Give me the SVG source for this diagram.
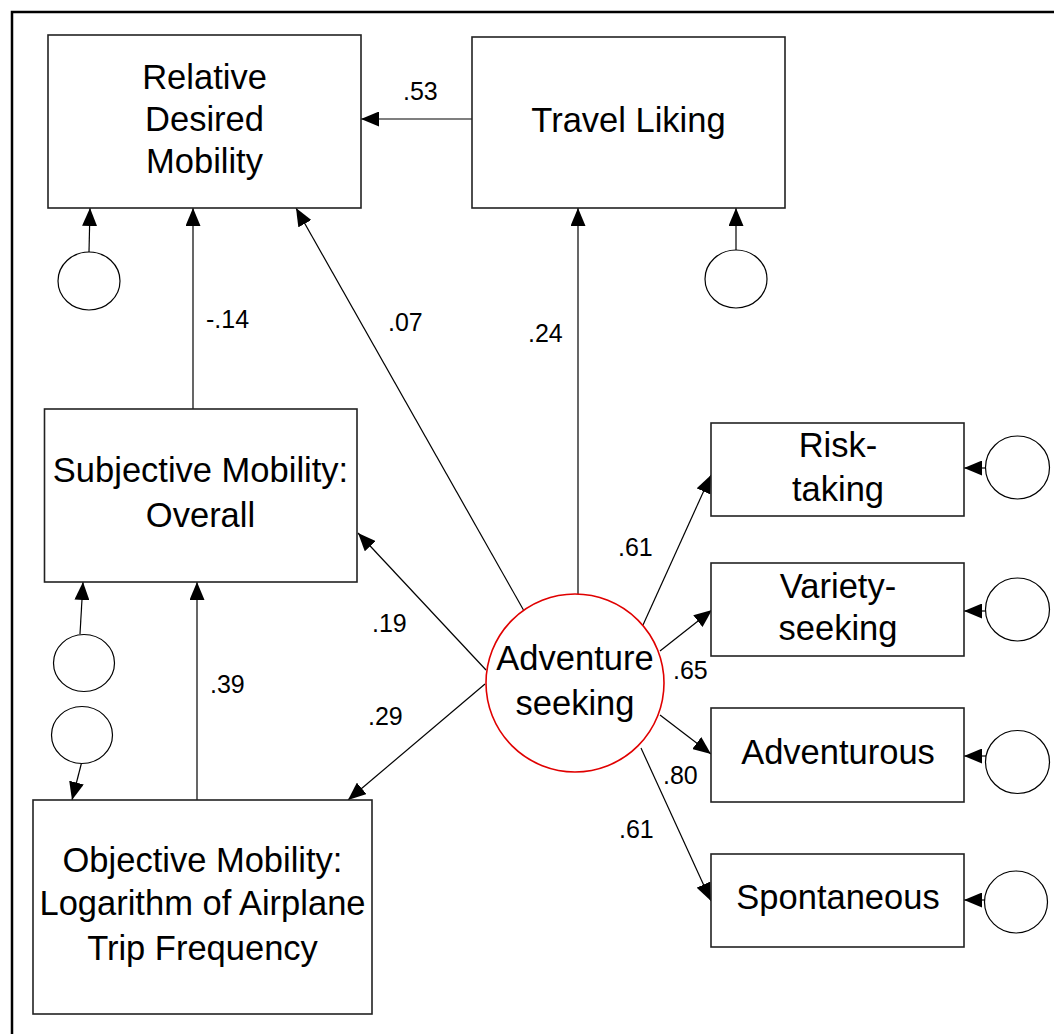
<svg xmlns="http://www.w3.org/2000/svg" width="1054" height="1034" viewBox="0 0 1054 1034">
  <style>
    .box { fill: #fff; stroke: #222; stroke-width: 1.6; }
    .err { fill: #fff; stroke: #000; stroke-width: 1.2; }
    .latent { fill: #fff; stroke: #e00000; stroke-width: 1.6; }
    .lbl { font-family: "Liberation Sans", Arial, sans-serif; font-size: 34.5px; fill: #000; text-anchor: middle; }
    .coef { font-family: "Liberation Sans", Arial, sans-serif; font-size: 25px; fill: #000; }
    .path { stroke: #000; stroke-width: 1.2; fill: none; marker-end: url(#head); }
  </style>
  <defs>
    <marker id="head" markerUnits="userSpaceOnUse" markerWidth="18" markerHeight="15" refX="18" refY="7.5" orient="auto">
      <path d="M0,0 L18,7.5 L0,15 Z" fill="#000"/>
    </marker>
  </defs>

  <rect width="1054" height="1034" fill="#fff"/>
  <!-- frame -->
  <path d="M12,1034 V12 H1054" fill="none" stroke="#000" stroke-width="2.5"/>

  <!-- paths -->
  <g id="connectors">
    <line class="path" x1="472" y1="119" x2="361" y2="119"/>
    <line class="path" x1="736" y1="250" x2="736" y2="208"/>
    <line class="path" x1="89" y1="252" x2="90" y2="208"/>
    <line class="path" x1="193" y1="409" x2="193" y2="208"/>
    <line class="path" x1="523.5" y1="610" x2="296" y2="208"/>
    <line class="path" x1="578" y1="594" x2="578" y2="208"/>
    <line class="path" x1="486" y1="670" x2="358" y2="533"/>
    <line class="path" x1="485" y1="684" x2="348" y2="800"/>
    <line class="path" x1="643" y1="625" x2="711" y2="475"/>
    <line class="path" x1="660" y1="651" x2="712" y2="610"/>
    <line class="path" x1="660" y1="715" x2="711" y2="754"/>
    <line class="path" x1="641" y1="748" x2="711" y2="901"/>
    <line class="path" x1="80" y1="634" x2="83" y2="582"/>
    <line class="path" x1="81.5" y1="763" x2="72" y2="800"/>
    <line class="path" x1="197" y1="800" x2="197" y2="582"/>
    <line class="path" x1="986" y1="468" x2="964" y2="468"/>
    <line class="path" x1="986" y1="611" x2="964" y2="611"/>
    <line class="path" x1="986" y1="756" x2="964" y2="756"/>
    <line class="path" x1="985" y1="900" x2="964" y2="900"/>
  </g>

  <!-- path coefficients -->
  <g id="coefficients">
    <text class="coef" x="403" y="100">.53</text>
    <text class="coef" x="206" y="328">-.14</text>
    <text class="coef" x="388" y="331">.07</text>
    <text class="coef" x="528" y="342">.24</text>
    <text class="coef" x="618" y="556">.61</text>
    <text class="coef" x="673" y="679">.65</text>
    <text class="coef" x="663" y="784">.80</text>
    <text class="coef" x="619" y="838">.61</text>
    <text class="coef" x="372" y="632">.19</text>
    <text class="coef" x="368" y="725">.29</text>
    <text class="coef" x="210" y="693">.39</text>
  </g>

  <g id="relative-desired-mobility">
    <rect class="box" x="48" y="35" width="313" height="173"/>
    <text class="lbl" x="204.5" y="89">Relative</text>
    <text class="lbl" x="204.5" y="131">Desired</text>
    <text class="lbl" x="204.5" y="173">Mobility</text>
  </g>

  <g id="travel-liking">
    <rect class="box" x="472" y="37" width="313" height="171"/>
    <text class="lbl" x="628.5" y="132">Travel Liking</text>
  </g>

  <g id="subjective-mobility">
    <rect class="box" x="44.5" y="409" width="312.5" height="173"/>
    <text class="lbl" x="200.5" y="482">Subjective Mobility:</text>
    <text class="lbl" x="200.5" y="527">Overall</text>
  </g>

  <g id="objective-mobility">
    <rect class="box" x="33" y="800" width="339" height="214"/>
    <text class="lbl" x="202.5" y="872">Objective Mobility:</text>
    <text class="lbl" x="202.5" y="915">Logarithm of Airplane</text>
    <text class="lbl" x="202.5" y="960">Trip Frequency</text>
  </g>

  <g id="adventure-seeking">
    <circle class="latent" cx="575" cy="683" r="89"/>
    <text class="lbl" x="575" y="670">Adventure</text>
    <text class="lbl" x="575" y="715">seeking</text>
  </g>

  <g id="risk-taking">
    <rect class="box" x="711" y="423" width="253" height="93"/>
    <text class="lbl" x="838" y="457">Risk-</text>
    <text class="lbl" x="838" y="501">taking</text>
  </g>

  <g id="variety-seeking">
    <rect class="box" x="711" y="563" width="253" height="93"/>
    <text class="lbl" x="838" y="598">Variety-</text>
    <text class="lbl" x="838" y="640">seeking</text>
  </g>

  <g id="adventurous">
    <rect class="box" x="711" y="708" width="253" height="94"/>
    <text class="lbl" x="838" y="764">Adventurous</text>
  </g>

  <g id="spontaneous">
    <rect class="box" x="711" y="854" width="253" height="93"/>
    <text class="lbl" x="838" y="909">Spontaneous</text>
  </g>

  <!-- residual terms -->
  <g id="e-relative-desired-mobility"><ellipse class="err" cx="89" cy="281" rx="31" ry="29"/></g>
  <g id="e-travel-liking"><ellipse class="err" cx="736" cy="279" rx="31" ry="29"/></g>
  <g id="e-subjective-mobility"><ellipse class="err" cx="84" cy="663" rx="30.5" ry="28.5"/></g>
  <g id="e-objective-mobility"><ellipse class="err" cx="82" cy="735" rx="30.5" ry="28.5"/></g>
  <g id="e-risk-taking"><ellipse class="err" cx="1017.5" cy="467.5" rx="32" ry="31.5"/></g>
  <g id="e-variety-seeking"><ellipse class="err" cx="1017.5" cy="609.5" rx="32" ry="31.5"/></g>
  <g id="e-adventurous"><ellipse class="err" cx="1017.5" cy="762" rx="32" ry="31.5"/></g>
  <g id="e-spontaneous"><ellipse class="err" cx="1016" cy="902" rx="31.5" ry="31"/></g>
</svg>
